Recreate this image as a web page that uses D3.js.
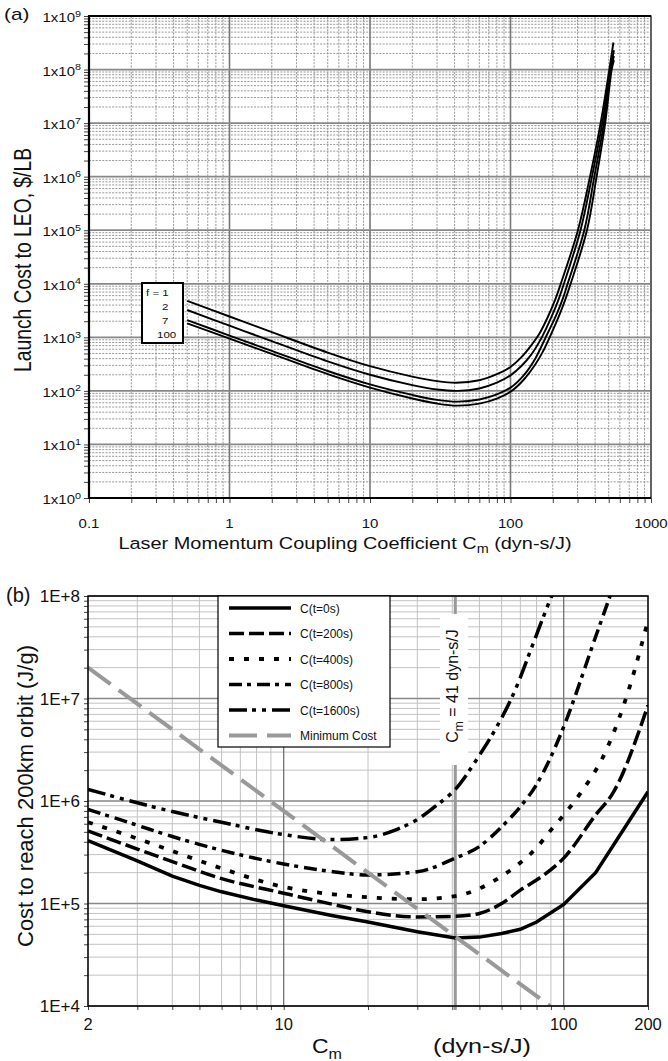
<!DOCTYPE html>
<html><head><meta charset="utf-8">
<script src="https://cdn.jsdelivr.net/npm/d3@7"></script>
<style>body{margin:0;background:#fff} svg{display:block} text{font-family:"Liberation Sans",Arial,Helvetica,sans-serif;fill:#111}</style>
</head><body><svg id="c" width="668" height="1061"></svg>
<script>
// ================= DATA =================
// Panel (a)
const topXTicks = [0.1, 1, 10, 100, 1000];
const topYExponents = [0, 1, 2, 3, 4, 5, 6, 7, 8, 9];
const fLabels = ["f = 1", "2", "7", "100"];
const costF1 = [[0.5,4800],[1,2450],[2,1250],[5,520],[10,290],[20,185],[30,152],[41,142],[60,158],[80,205],[100,280],[120,430],[140,700],[160,1150],[185,2450],[210,5400],[228,1e4],[302,1e5],[368,1e6],[438,1e7],[505,1e8],[540,3.2e8]];
const costF2 = [[0.5,3240],[1,1650],[2,850],[5,355],[10,200],[20,128],[30,106],[42,100],[60,111],[80,142],[100,195],[120,295],[140,470],[167,1000],[195,2350],[220,5100],[240,1e4],[315,1e5],[380,1e6],[450,1e7],[512,1e8],[545,2.3e8]];
const costF7 = [[0.5,2100],[1,1080],[2,560],[5,235],[10,132],[20,84],[30,68],[42,63],[60,69],[80,86],[100,115],[125,200],[150,400],[178,1000],[210,2480],[235,5160],[255,1e4],[335,1e5],[395,1e6],[462,1e7],[518,1e8],[545,1.8e8]];
const costF100 = [[0.5,1830],[1,950],[2,490],[5,205],[10,115],[20,72],[30,58],[42,53],[60,58],[80,72],[102,100],[125,165],[150,310],[170,540],[190,1000],[220,2400],[245,5000],[268,1e4],[350,1e5],[410,1e6],[472,1e7],[525,1e8],[545,1.5e8]];

// Panel (b)
const botXTicks = [2, 10, 100, 200];
const botYTicks = [1e4, 1e5, 1e6, 1e7, 1e8];
const botYTickLabels = ["1E+4", "1E+5", "1E+6", "1E+7", "1E+8"];
const seriesNames = ["C(t=0s)", "C(t=200s)", "C(t=400s)", "C(t=800s)", "C(t=1600s)", "Minimum Cost"];
const cost0 = [[2,4.1e5],[3,2.6e5],[4,1.85e5],[5,1.5e5],[6,1.3e5],[8,1.08e5],[10,9.5e4],[15,7.6e4],[20,6.6e4],[30,5.3e4],[41,4.6e4],[50,4.7e4],[60,5.1e4],[70,5.6e4],[80,6.6e4],[100,9.8e4],[130,2e5],[200,1.23e6]];
const cost200 = [[2,5.1e5],[3,3.4e5],[4,2.56e5],[6,1.75e5],[10,1.26e5],[15,9.8e4],[20,8.3e4],[30,7.4e4],[41,7.5e4],[50,8e4],[60,1e5],[70,1.35e5],[85,1.9e5],[100,2.77e5],[130,7.3e5],[150,1.2e6],[200,8.6e6]];
const cost400 = [[2,6.2e5],[3,4.3e5],[4,3.25e5],[6,2.2e5],[10,1.45e5],[15,1.23e5],[20,1.15e5],[30,1.1e5],[41,1.18e5],[50,1.4e5],[60,1.85e5],[70,2.5e5],[80,3.5e5],[90,5.2e5],[100,7.3e5],[115,1.2e6],[142,3.15e6],[172,1.3e7],[200,5.8e7]];
const cost800 = [[2,8.3e5],[3,5.8e5],[4,4.5e5],[6,3.3e5],[10,2.43e5],[15,2.04e5],[20,1.9e5],[30,2.04e5],[41,2.77e5],[50,3.6e5],[60,5.6e5],[70,8.8e5],[80,1.45e6],[90,2.7e6],[100,5.3e6],[130,4e7],[146,9.8e7],[160,2e8]];
const cost1600 = [[2,1.3e6],[3,9.6e5],[4,7.9e5],[6,6.2e5],[10,4.7e5],[15,4.2e5],[20,4.4e5],[25,5.2e5],[30,6.6e5],[35,9e5],[41,1.3e6],[50,2.8e6],[56,4.6e6],[67,1.2e7],[78,3.5e7],[90.6,1e8],[100,1.8e8]];
const minCost = [[2,2e7],[41,4.76e4],[89.4,1e4]];
const optimumCm = 41;

// ================= DRAW =================
const svg = d3.select("#c");
const defs = svg.append("defs");

function logGridVals(lo, hi) {
  const out = [];
  for (let e = Math.floor(Math.log10(lo)) ; e <= Math.ceil(Math.log10(hi)); e++)
    for (let m = 1; m < 10; m++) {
      const v = +(m * Math.pow(10, e)).toPrecision(6);
      if (v >= lo * 0.9999 && v <= hi * 1.0001) out.push(v);
    }
  return out;
}
const isDecade = v => Math.abs(Math.log10(v) - Math.round(Math.log10(v))) < 1e-6;

function htext(g, x, y, str, size, anchor, sx) {
  return g.append("text").attr("transform", `translate(${x},${y}) scale(${sx||1},1)`)
    .attr("font-size", size).attr("text-anchor", anchor || "start").text(str);
}

// ---------- Panel (a) ----------
const A = {l: 89, r: 651, t: 16, b: 498};
const xA = d3.scaleLog().domain([0.1, 1000]).range([A.l, A.r]);
const yA = d3.scaleLog().domain([1, 1e9]).range([A.b, A.t]);
const gA = svg.append("g");

const xMinA = logGridVals(0.1, 1000), yMinA = logGridVals(1, 1e9);
// minor grid
gA.append("g").selectAll("line").data(xMinA.filter(v => !isDecade(v))).join("line")
  .attr("x1", d => xA(d)).attr("x2", d => xA(d)).attr("y1", A.t).attr("y2", A.b)
  .attr("stroke", "#8a8a8a").attr("stroke-width", 0.9).attr("stroke-dasharray", "2,1.3");
gA.append("g").selectAll("line").data(yMinA.filter(v => !isDecade(v))).join("line")
  .attr("y1", d => yA(d)).attr("y2", d => yA(d)).attr("x1", A.l).attr("x2", A.r)
  .attr("stroke", "#8a8a8a").attr("stroke-width", 0.9).attr("stroke-dasharray", "2,1.3");
// major grid
gA.append("g").selectAll("line").data(topXTicks).join("line")
  .attr("x1", d => xA(d)).attr("x2", d => xA(d)).attr("y1", A.t).attr("y2", A.b)
  .attr("stroke", "#777").attr("stroke-width", 1.6);
gA.append("g").selectAll("line").data(topYExponents.map(e => Math.pow(10, e))).join("line")
  .attr("y1", d => yA(d)).attr("y2", d => yA(d)).attr("x1", A.l).attr("x2", A.r)
  .attr("stroke", "#888").attr("stroke-width", 1.8);

// axes ticks
const axLA = gA.append("g").attr("transform", `translate(${A.l},0)`)
  .call(d3.axisLeft(yA).tickValues(yMinA).tickSize(5).tickFormat(""));
const axBA = gA.append("g").attr("transform", `translate(0,${A.b})`)
  .call(d3.axisBottom(xA).tickValues(xMinA).tickSize(5).tickFormat(""));
[axLA, axBA].forEach(a => { a.select(".domain").remove(); a.selectAll("line").attr("stroke", "#444"); });

// frame
gA.append("rect").attr("x", A.l).attr("y", A.t).attr("width", A.r - A.l).attr("height", A.b - A.t)
  .attr("fill", "none").attr("stroke", "#555").attr("stroke-width", 1.5);
gA.append("path").attr("d", `M${A.r},${A.t}H${A.l}V${A.b}H${A.r}`).attr("fill", "none")
  .attr("stroke", "#000").attr("stroke-width", 2.2);

// tick labels
topYExponents.forEach(e => {
  const t = gA.append("text").attr("transform", `translate(81,${yA(Math.pow(10, e)) + 6}) scale(1.2,1)`)
    .attr("font-size", 12.5).attr("text-anchor", "end");
  t.append("tspan").text("1x10");
  t.append("tspan").attr("font-size", 9).attr("dy", -5.5).text(e);
});
topXTicks.forEach(v => htext(gA, xA(v), 528, String(v), 12.5, "middle", 1.2));

// titles
htext(gA, 4, 20, "(a)", 16, "start", 1.3);
const tA = gA.append("text").attr("transform", "translate(345,549) scale(1.2,1)")
  .attr("font-size", 16.6).attr("text-anchor", "middle");
tA.append("tspan").text("Laser Momentum Coupling Coefficient C");
tA.append("tspan").attr("font-size", 12).attr("dy", 4).text("m");
tA.append("tspan").attr("dy", -4).text(" (dyn-s/J)");
gA.append("text").attr("transform", "translate(31,260) scale(1.2,1) rotate(-90)")
  .attr("font-size", 19.3).attr("text-anchor", "middle").text("Launch Cost to LEO, $/LB");

// curves
const lineA = d3.line().x(d => xA(d[0])).y(d => yA(d[1])).curve(d3.curveCatmullRom.alpha(0.5));
gA.append("g").selectAll("path").data([costF1, costF2, costF7, costF100]).join("path")
  .attr("d", lineA).attr("fill", "none").attr("stroke", "#000").attr("stroke-width", 1.9);

// legend box (a)
gA.append("rect").attr("x", 142).attr("y", 283).attr("width", 41).attr("height", 60)
  .attr("fill", "#fff").attr("stroke", "#000").attr("stroke-width", 2);
const fxPos = [146, 162, 162, 157];
fLabels.forEach((s, i) => htext(gA, fxPos[i], 296 + i * 14, s, 9.6, "start", 1.2));

// ---------- Panel (b) ----------
const B = {l: 88, r: 648, t: 596, b: 1006};
const xB = d3.scaleLog().domain([2, 200]).range([B.l, B.r]);
const yB = d3.scaleLog().domain([1e4, 1e8]).range([B.b, B.t]);
const gB = svg.append("g");
defs.append("clipPath").attr("id", "clipB").append("rect")
  .attr("x", B.l).attr("y", B.t).attr("width", B.r - B.l).attr("height", B.b - B.t);

const xMinB = logGridVals(2, 200), yMinB = logGridVals(1e4, 1e8);
gB.append("g").selectAll("line").data(xMinB.filter(v => !isDecade(v))).join("line")
  .attr("x1", d => xB(d)).attr("x2", d => xB(d)).attr("y1", B.t).attr("y2", B.b)
  .attr("stroke", "#c2c2c2").attr("stroke-width", 1);
gB.append("g").selectAll("line").data(yMinB.filter(v => !isDecade(v))).join("line")
  .attr("y1", d => yB(d)).attr("y2", d => yB(d)).attr("x1", B.l).attr("x2", B.r)
  .attr("stroke", "#c2c2c2").attr("stroke-width", 1);
gB.append("g").selectAll("line").data(xMinB.filter(v => isDecade(v))).join("line")
  .attr("x1", d => xB(d)).attr("x2", d => xB(d)).attr("y1", B.t).attr("y2", B.b)
  .attr("stroke", "#666").attr("stroke-width", 1.2);
gB.append("g").selectAll("line").data(botYTicks).join("line")
  .attr("y1", d => yB(d)).attr("y2", d => yB(d)).attr("x1", B.l).attr("x2", B.r)
  .attr("stroke", "#888").attr("stroke-width", 1.6);

const axLB = gB.append("g").attr("transform", `translate(${B.l},0)`)
  .call(d3.axisLeft(yB).tickValues(yMinB).tickSize(4).tickFormat(""));
const axBB = gB.append("g").attr("transform", `translate(0,${B.b})`)
  .call(d3.axisBottom(xB).tickValues(xMinB).tickSize(4).tickFormat(""));
[axLB, axBB].forEach(a => { a.select(".domain").remove(); a.selectAll("line").attr("stroke", "#444"); });

// optimum vertical line + label box
gB.append("line").attr("x1", xB(optimumCm)).attr("x2", xB(optimumCm)).attr("y1", B.t).attr("y2", B.b + 4)
  .attr("stroke", "#999").attr("stroke-width", 3);
gB.append("rect").attr("x", 440).attr("y", 614).attr("width", 28).attr("height", 151).attr("fill", "#fff");
const tOpt = gB.append("text").attr("transform", `translate(458,686) rotate(-90)`)
  .attr("font-size", 16).attr("text-anchor", "middle");
tOpt.append("tspan").text("C");
tOpt.append("tspan").attr("font-size", 12).attr("dy", 5).text("m");
tOpt.append("tspan").attr("dy", -5).text(" = 41 dyn-s/J");

// curves
const styles = [
  {data: cost0, dash: null, color: "#000", w: 3.5, curve: d3.curveLinear},
  {data: cost200, dash: "15,5", color: "#000", w: 3.5, curve: d3.curveMonotoneX},
  {data: cost400, dash: "5,10", color: "#000", w: 3.8, curve: d3.curveMonotoneX},
  {data: cost800, dash: "13,5,4,6", color: "#000", w: 3.5, curve: d3.curveMonotoneX},
  {data: cost1600, dash: "18,5,4,6,4,6", color: "#000", w: 3.5, curve: d3.curveMonotoneX},
  {data: minCost, dash: "28,10", color: "#999", w: 4, curve: d3.curveLinear}
];
const gCurves = gB.append("g").attr("clip-path", "url(#clipB)");
styles.forEach(s => {
  const ln = d3.line().x(d => xB(d[0])).y(d => yB(d[1])).curve(s.curve);
  gCurves.append("path").datum(s.data).attr("d", ln).attr("fill", "none")
    .attr("stroke", s.color).attr("stroke-width", s.w).attr("stroke-dasharray", s.dash);
});

// frame
gB.append("rect").attr("x", B.l).attr("y", B.t).attr("width", B.r - B.l).attr("height", B.b - B.t)
  .attr("fill", "none").attr("stroke", "#000").attr("stroke-width", 1.5);

// legend (b)
const gL = gB.append("g");
gL.append("rect").attr("x", 218).attr("y", 596).attr("width", 172).attr("height", 151)
  .attr("fill", "#fff").attr("stroke", "#000").attr("stroke-width", 1.2);
seriesNames.forEach((name, i) => {
  const y = 608 + i * 25.5, s = styles[i];
  gL.append("line").attr("x1", 229).attr("x2", 291).attr("y1", y).attr("y2", y)
    .attr("stroke", s.color).attr("stroke-width", s.w).attr("stroke-dasharray", s.dash);
  gL.append("text").attr("x", 300).attr("y", y + 4.5).attr("font-size", 12).text(name);
});

// tick labels
botYTicks.forEach((v, i) => htext(gB, 80, yB(v) + 6, botYTickLabels[i], 17, "end", 1));
botXTicks.forEach(v => htext(gB, xB(v), 1030, String(v), 16.5, "middle", 1));

// titles
htext(gB, 6, 602, "(b)", 20, "start", 1);
const tB1 = gB.append("text").attr("transform", "translate(312,1053) scale(1.15,1)").attr("font-size", 20);
tB1.append("tspan").text("C");
tB1.append("tspan").attr("font-size", 14).attr("dy", 6).text("m");
htext(gB, 433, 1053, "(dyn-s/J)", 21, "start", 1.2);
gB.append("text").attr("transform", "translate(33,796) rotate(-90)")
  .attr("font-size", 22).attr("text-anchor", "middle").text("Cost to reach 200km orbit (J/g)");
</script></body></html>
